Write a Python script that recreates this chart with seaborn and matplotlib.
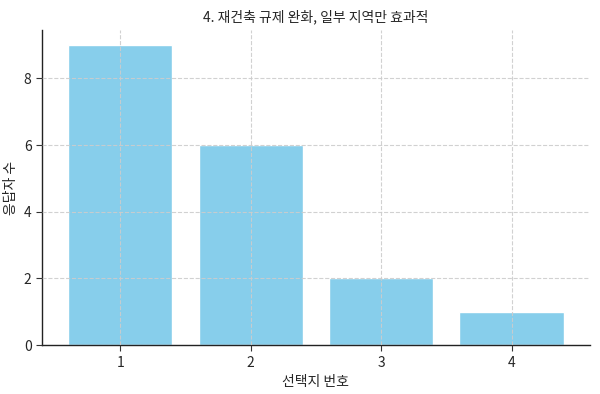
import numpy as np
import pandas as pd
import matplotlib
matplotlib.use("Agg")
import matplotlib.pyplot as plt
import seaborn as sns

choices = ["1", "2", "3", "4"]
counts = [9, 6, 2, 1]

sns.set_theme(style="white")
plt.rcParams["font.family"] = ["Noto Sans CJK KR", "DejaVu Sans"]
plt.rcParams["axes.unicode_minus"] = False

df = pd.DataFrame({"choice": choices, "count": counts})

fig, ax = plt.subplots(figsize=(6.0, 3.94), dpi=100)
sns.barplot(data=df, x="choice", y="count", order=choices, color="skyblue",
            saturation=1, width=0.8, edgecolor="white", linewidth=1, ax=ax)

ax.set_axisbelow(False)
ax.grid(True, linestyle="--", color="#cccccc", linewidth=0.8, alpha=0.9)
ax.set_xlim(-0.6, 3.6)
ax.set_ylim(0, 9.45)
ax.set_yticks([0, 2, 4, 6, 8])
ax.tick_params(axis="both", which="major", length=4, width=0.8, color="#333333",
               labelsize=10, bottom=True, left=True)

for side in ["top", "right"]:
    ax.spines[side].set_visible(False)
for side in ["left", "bottom"]:
    ax.spines[side].set_color("#222222")
    ax.spines[side].set_linewidth(1.0)

ax.set_title("4. 재건축 규제 완화, 일부 지역만 효과적", fontsize=10)
ax.set_xlabel("선택지 번호", fontsize=10)
ax.set_ylabel("응답자 수", fontsize=10)

plt.subplots_adjust(left=0.07, right=0.983, top=0.924, bottom=0.124)
plt.savefig("out.png", dpi=100)
